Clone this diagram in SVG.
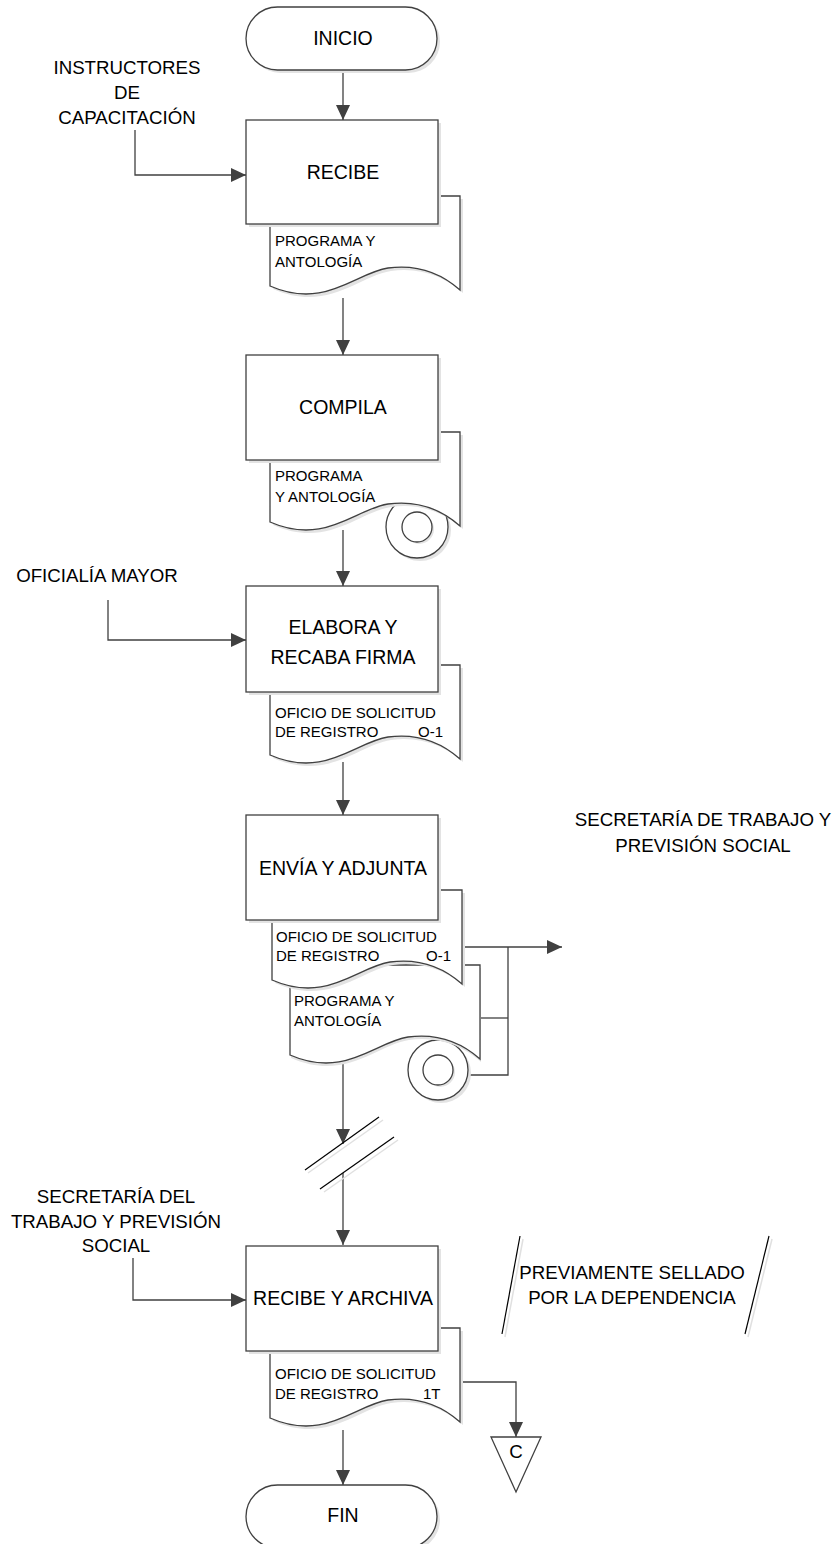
<svg xmlns="http://www.w3.org/2000/svg" xmlns:xlink="http://www.w3.org/1999/xlink" width="836" height="1544" viewBox="0 0 836 1544">
<style>
.shape{fill:#fff;stroke:#404040;stroke-width:1.3}
.shadow{fill:#e3e3e3;stroke:none}
.conn{fill:none;stroke:#404040;stroke-width:1.3}
.slash{fill:none;stroke:#000;stroke-width:1.2}
.slash-sh{fill:none;stroke:#e0e0e0;stroke-width:1.5}
text{font-family:"Liberation Sans",Arial,sans-serif;fill:#000}
.big{font-size:19.5px;text-anchor:middle}
.lbl{font-size:18.7px;text-anchor:middle}
.small{font-size:15px}
</style>
<defs>
<marker id="arr" markerUnits="userSpaceOnUse" markerWidth="16" markerHeight="16" refX="15" refY="7" orient="auto">
<path d="M0,0 L15,7 L0,14 Z" fill="#404040"/>
</marker>
<path id="doc" d="M0,0 H190 V94 C172,78 148,68 118,72 C85,77 55,114 0,90 Z"/>
</defs>

<g id="connectors">
<path class="conn" d="M343,70 V120" marker-end="url(#arr)"/>
<path class="conn" d="M135,130 V175 H246" marker-end="url(#arr)"/>
<path class="conn" d="M343,298 V355" marker-end="url(#arr)"/>
<path class="conn" d="M343,530 V586" marker-end="url(#arr)"/>
<path class="conn" d="M108,600 V640 H246" marker-end="url(#arr)"/>
<path class="conn" d="M343,762 V815" marker-end="url(#arr)"/>
<path class="conn" d="M462,947 H562" marker-end="url(#arr)"/>
<path class="conn" d="M508,947 V1075 H468"/>
<path class="conn" d="M480,1018 H508"/>
<path class="conn" d="M343,1064 V1144" marker-end="url(#arr)"/>
<path class="conn" d="M343,1173 V1245" marker-end="url(#arr)"/>
<path class="conn" d="M133,1258 V1300 H246" marker-end="url(#arr)"/>
<path class="conn" d="M343,1430 V1485" marker-end="url(#arr)"/>
<path class="conn" d="M460,1382 H516 V1437" marker-end="url(#arr)"/>
</g>

<g id="break">
<line class="slash-sh" x1="308" y1="1173" x2="383" y2="1120"/>
<line class="slash-sh" x1="324" y1="1192" x2="398" y2="1140"/>
<line class="slash" x1="305" y1="1170" x2="379" y2="1117"/>
<line class="slash" x1="320" y1="1189" x2="394" y2="1137"/>
</g>

<g id="inicio">
<rect class="shadow" x="249" y="10" width="191" height="63" rx="31.5"/>
<rect class="shape" x="246" y="7" width="191" height="63" rx="31.5"/>
<text class="big" x="343" y="45">INICIO</text>
</g>

<g id="instructores">
<text class="lbl" x="127" y="74">INSTRUCTORES</text>
<text class="lbl" x="127" y="99">DE</text>
<text class="lbl" x="127" y="124">CAPACITACIÓN</text>
</g>

<g id="recibe">
<use href="#doc" x="273" y="199" class="shadow"/>
<use href="#doc" x="270" y="196" class="shape"/>
<rect class="shadow" x="249" y="123" width="192" height="104"/>
<rect class="shape" x="246" y="120" width="192" height="104"/>
<text class="big" x="343" y="179">RECIBE</text>
<text class="small" x="275" y="246">PROGRAMA Y</text>
<text class="small" x="275" y="267">ANTOLOGÍA</text>
</g>

<g id="compila">
<circle class="shadow" cx="420" cy="530" r="31"/>
<circle class="shape" cx="417" cy="527" r="31"/>
<use href="#doc" x="273" y="435" class="shadow"/>
<use href="#doc" x="270" y="432" class="shape"/>
<circle class="shadow" cx="419" cy="529" r="15"/>
<circle class="shape" cx="417" cy="527" r="15"/>
<rect class="shadow" x="249" y="358" width="192" height="105"/>
<rect class="shape" x="246" y="355" width="192" height="105"/>
<text class="big" x="343" y="414">COMPILA</text>
<text class="small" x="275" y="481">PROGRAMA</text>
<text class="small" x="275" y="502">Y ANTOLOGÍA</text>
</g>

<g id="oficialia">
<text class="lbl" x="97" y="582">OFICIALÍA MAYOR</text>
</g>

<g id="elabora">
<use href="#doc" x="273" y="668" class="shadow"/>
<use href="#doc" x="270" y="665" class="shape"/>
<rect class="shadow" x="249" y="589" width="192" height="106"/>
<rect class="shape" x="246" y="586" width="192" height="106"/>
<text class="big" x="343" y="634">ELABORA Y</text>
<text class="big" x="343" y="664">RECABA FIRMA</text>
<text class="small" x="275" y="718">OFICIO DE SOLICITUD</text>
<text class="small" x="275" y="737">DE REGISTRO</text>
<text class="small" x="418" y="737">O-1</text>
</g>

<g id="envia">
<circle class="shadow" cx="441" cy="1073" r="30"/>
<circle class="shape" cx="438" cy="1070" r="30"/>
<use href="#doc" x="291" y="968" class="shadow"/>
<use href="#doc" x="290" y="965" class="shape"/>
<circle class="shadow" cx="440" cy="1072" r="15"/>
<circle class="shape" cx="438" cy="1070" r="15"/>
<use href="#doc" x="275" y="893" class="shadow"/>
<use href="#doc" x="272" y="890" class="shape"/>
<rect class="shadow" x="249" y="818" width="192" height="105"/>
<rect class="shape" x="246" y="815" width="192" height="105"/>
<text class="big" x="343" y="875">ENVÍA Y ADJUNTA</text>
<text class="small" x="276" y="942">OFICIO DE SOLICITUD</text>
<text class="small" x="276" y="961">DE REGISTRO</text>
<text class="small" x="426" y="961">O-1</text>
<text class="small" x="294" y="1006">PROGRAMA Y</text>
<text class="small" x="294" y="1026">ANTOLOGÍA</text>
</g>

<g id="stps-out">
<text class="lbl" x="703" y="826">SECRETARÍA DE TRABAJO Y</text>
<text class="lbl" x="703" y="852">PREVISIÓN SOCIAL</text>
</g>

<g id="stps-in">
<text class="lbl" x="116" y="1203">SECRETARÍA DEL</text>
<text class="lbl" x="116" y="1228">TRABAJO Y PREVISIÓN</text>
<text class="lbl" x="116" y="1252">SOCIAL</text>
</g>

<g id="recibe-archiva">
<use href="#doc" x="273" y="1331" class="shadow"/>
<use href="#doc" x="270" y="1328" class="shape"/>
<rect class="shadow" x="249" y="1249" width="192" height="105"/>
<rect class="shape" x="246" y="1246" width="192" height="105"/>
<text class="big" x="343" y="1305">RECIBE Y ARCHIVA</text>
<text class="small" x="275" y="1379">OFICIO DE SOLICITUD</text>
<text class="small" x="275" y="1399">DE  REGISTRO</text>
<text class="small" x="423" y="1399">1T</text>
</g>

<g id="nota">
<line class="slash-sh" x1="523" y1="1239" x2="505" y2="1337"/>
<line class="slash-sh" x1="772" y1="1239" x2="748" y2="1337"/>
<line class="slash" x1="520" y1="1236" x2="502" y2="1334"/>
<line class="slash" x1="769" y1="1236" x2="745" y2="1334"/>
<text class="lbl" x="632" y="1279">PREVIAMENTE SELLADO</text>
<text class="lbl" x="632" y="1304">POR LA DEPENDENCIA</text>
</g>

<g id="conector-c">
<polygon class="shape" points="491,1437 541,1437 516,1492"/>
<text class="lbl" x="516" y="1458">C</text>
</g>

<g id="fin">
<rect class="shadow" x="249" y="1488" width="191" height="63" rx="31.5"/>
<rect class="shape" x="246" y="1485" width="191" height="63" rx="31.5"/>
<text class="big" x="343" y="1522">FIN</text>
</g>
</svg>
